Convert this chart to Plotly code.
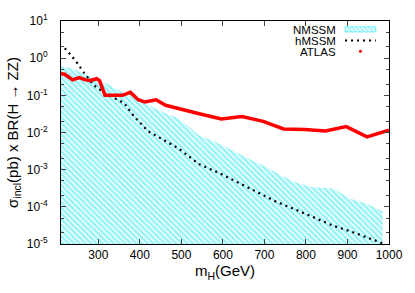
import plotly.graph_objects as go

# ATLAS observed limit
atlas_m = [210, 219, 238, 254, 269, 281, 296, 303, 316, 331, 358, 377, 396, 412, 439, 462,
           489, 519, 543, 596, 646, 697, 746, 797, 847, 897, 947, 1000]
atlas_v = [0.38, 0.37, 0.26, 0.30, 0.26, 0.25, 0.28, 0.25, 0.10, 0.10, 0.10, 0.12, 0.076,
           0.066, 0.076, 0.054, 0.046, 0.039, 0.032, 0.023, 0.027, 0.020, 0.0125, 0.012,
           0.011, 0.0144, 0.0076, 0.0115]

# hMSSM prediction
hmssm_m = [219, 223, 246, 265, 288, 318, 362, 385, 419, 457, 492, 543, 589, 635, 681, 727,
           774, 820, 866, 912, 942, 985]
hmssm_v = [1.85, 1.67, 0.83, 0.41, 0.19, 0.11, 0.062, 0.028, 0.011, 0.0062, 0.0038, 0.0014,
           8.3e-4, 4.6e-4, 2.5e-4, 1.4e-4, 8.5e-5, 5.1e-5, 3.1e-5, 2.1e-5, 1.6e-5, 1.04e-5]

# NMSSM scan region (upper envelope, filled down to the axis floor)
nmssm_m = [210, 230, 249, 288, 327, 365, 404, 443, 496, 543, 581, 619, 658, 697, 734, 774,
           812, 866, 904, 951, 985]
nmssm_up = [0.62, 0.55, 0.46, 0.30, 0.19, 0.11, 0.068, 0.041, 0.023, 0.0083, 0.0056, 0.0034,
            0.0021, 0.0013, 7.6e-4, 4.6e-4, 3.4e-4, 3.1e-4, 1.7e-4, 1.15e-4, 7.6e-5]
floor_v = 1e-5

y_tickvals = [1e-5, 1e-4, 1e-3, 1e-2, 1e-1, 1, 10]
y_ticktext = ["10<sup>-5</sup>", "10<sup>-4</sup>", "10<sup>-3</sup>", "10<sup>-2</sup>",
              "10<sup>-1</sup>", "10<sup>0</sup>", "10<sup>1</sup>"]
x_tickvals = [300, 400, 500, 600, 700, 800, 900, 1000]

legend_names = ["NMSSM", "hMSSM", "ATLAS"]

CYAN = "#2ee8f0"
FONT = "Liberation Sans, Arial, sans-serif"

fig = go.Figure()

poly_x = nmssm_m + nmssm_m[::-1]
poly_y = nmssm_up + [floor_v] * len(nmssm_m)
fig.add_trace(go.Scatter(
    x=poly_x, y=poly_y, mode="lines", fill="toself",
    line=dict(width=0, color=CYAN),
    fillcolor="rgba(0,0,0,0)",
    fillpattern=dict(shape="\\", fgcolor=CYAN, bgcolor="white", size=4, solidity=0.65),
    showlegend=False, hoverinfo="skip"))

fig.add_trace(go.Scatter(
    x=hmssm_m, y=hmssm_v, mode="lines",
    line=dict(color="black", width=2.2, dash="2px,4px"),
    showlegend=False))

fig.add_trace(go.Scatter(
    x=atlas_m, y=atlas_v, mode="lines",
    line=dict(color="#ff0000", width=3.5),
    showlegend=False))

# legend samples on an overlay axis (0..1 over the plot area)
fig.add_trace(go.Scatter(
    x=[0.866, 0.96, 0.96, 0.866, 0.866], y=[0.974, 0.974, 0.951, 0.951, 0.974],
    xaxis="x2", yaxis="y2", mode="lines", fill="toself",
    line=dict(width=0.6, color=CYAN), fillcolor="rgba(0,0,0,0)",
    fillpattern=dict(shape="\\", fgcolor=CYAN, bgcolor="white", size=3, solidity=0.55),
    showlegend=False, hoverinfo="skip"))
fig.add_trace(go.Scatter(
    x=[0.866, 0.96], y=[0.913, 0.913], xaxis="x2", yaxis="y2", mode="lines",
    line=dict(color="black", width=2, dash="2px,4px"), showlegend=False, hoverinfo="skip"))
fig.add_trace(go.Scatter(
    x=[0.913], y=[0.864], xaxis="x2", yaxis="y2", mode="markers",
    marker=dict(color="#ff0000", size=3), showlegend=False, hoverinfo="skip"))

for name, yy in zip(legend_names, [0.9625, 0.913, 0.864]):
    fig.add_annotation(x=0.842, y=yy, xref="x2", yref="y2", text=name, showarrow=False,
                       xanchor="right", yanchor="middle", height=11, borderpad=0,
                       font=dict(family=FONT, size=11.5, color="black"))

fig.update_layout(
    width=415, height=293,
    margin=dict(l=56, r=17, t=14, b=49),
    paper_bgcolor="white", plot_bgcolor="white",
    font=dict(family=FONT, size=12, color="black"),
    xaxis=dict(range=[210, 1000], tickvals=x_tickvals,
               ticks="inside", ticklen=5, mirror="ticks", showline=True, linecolor="black",
               linewidth=1, showgrid=False, zeroline=False,
               tickfont=dict(size=12),
               title=dict(text="m<sub>H</sub>(GeV)", font=dict(size=15), standoff=0)),
    yaxis=dict(type="log", range=[-5, 1], tickvals=y_tickvals, ticktext=y_ticktext,
               ticks="inside", ticklen=5, mirror="ticks", showline=True, linecolor="black",
               linewidth=1, showgrid=False, zeroline=False,
               minor=dict(ticks="inside", ticklen=3, showgrid=False),
               tickfont=dict(size=12), ticklabelstandoff=10,
               title=dict(text="σ<sub>incl</sub>(pb) x BR(H → ZZ)", font=dict(size=15),
                          standoff=4)),
    xaxis2=dict(range=[0, 1], overlaying="x", visible=False, fixedrange=True),
    yaxis2=dict(range=[0, 1], overlaying="y", visible=False, fixedrange=True),
)

fig.write_html("out.html", config={"displayModeBar": False},
               post_script="document.body.style.margin='0px';")
